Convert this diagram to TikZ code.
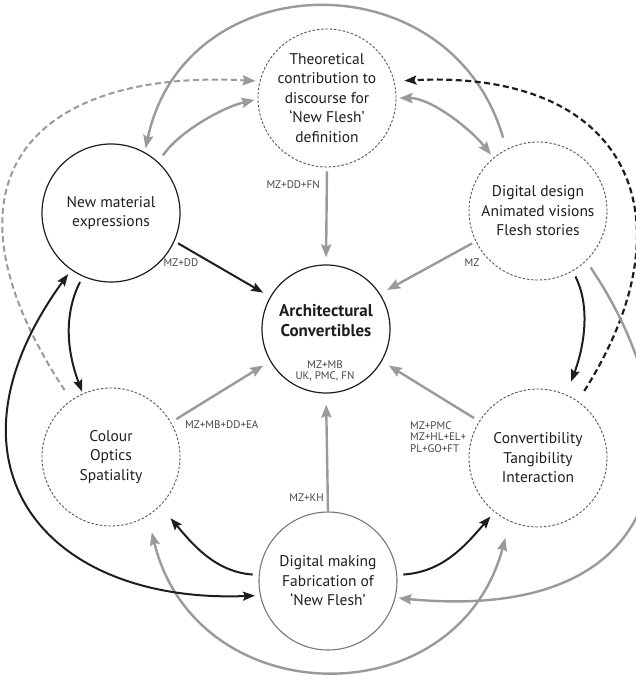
\documentclass[tikz,border=0pt]{standalone}
\usepackage{fontspec}
\setmainfont{PT Sans}
\usetikzlibrary{arrows.meta}
\definecolor{arrgray}{HTML}{9A9A9A}
\definecolor{circgray}{HTML}{555555}
\definecolor{bgray}{HTML}{777777}
\definecolor{txt}{HTML}{1E1E1E}
\definecolor{lblc}{HTML}{444444}
\begin{document}
\begin{tikzpicture}[x=1pt,y=-1pt,
  circ/.style={circle, minimum size=138pt, inner sep=0pt, align=center, font=\fontsize{15.5}{19.5}\selectfont, text=txt},
  solidc/.style={circ, draw=txt, line width=1.2pt},
  dashc/.style={circ, draw=circgray, line width=0.9pt, dash pattern=on 2.5pt off 1.8pt},
  grayc/.style={circ, draw=bgray, line width=1.1pt},
  gtip/.tip={Stealth[length=13pt,width=10pt,inset=2pt]},
  btip/.tip={Stealth[length=12pt,width=9pt,inset=2pt]},
  garr/.style={draw=arrgray, line width=2.4pt, -gtip},
  garrd/.style={draw=arrgray, line width=2.4pt, gtip-gtip},
  barr/.style={draw=txt, line width=2pt, -btip},
  barrd/.style={draw=txt, line width=2pt, btip-btip},
  gdash/.style={draw=arrgray, line width=2pt, dash pattern=on 6pt off 3.5pt, -gtip},
  bdash/.style={draw=txt, line width=2.2pt, dash pattern=on 6pt off 3.5pt, -btip},
  lbl/.style={font=\fontsize{11}{11.5}\selectfont, text=lblc, inner sep=0pt, align=left},
]
\useasboundingbox (0,0) rectangle (635,676);

% nodes
\node[dashc] (T) at (327,98) {Theoretical\\contribution to\\discourse for\\‘New Flesh’\\definition};
\node[solidc] (N) at (111,213) {New material\\expressions};
\node[dashc] (D) at (538,211) {Digital design\\Animated visions\\Flesh stories};
\node[dashc] (Co) at (111,457) {Colour\\Optics\\Spatiality};
\node[dashc] (Cv) at (538,458) {Convertibility\\Tangibility\\Interaction};
\node[grayc] (B) at (328,581) {Digital making\\Fabrication of\\‘New Flesh’};
\node[solidc, minimum size=128pt] (C) at (326,329) {};
\node[font=\fontsize{17}{20}\selectfont\bfseries, text=txt, align=center] (Ct) at (326,321) {Architectural\\Convertibles};
\node[lbl, align=center] (Cl) at (325,371) {MZ+MB\\UK, PMC, FN};

% straight arrows into centre
\draw[garr, shorten <=4pt, shorten >=7pt] (T.south) -- (C.north);
\draw[barr, shorten <=4pt, shorten >=8pt] (N.-24) -- (C.150);
\draw[garr, shorten <=4pt, shorten >=8pt] (D.206) -- (C.33);
\draw[garr, shorten <=6pt, shorten >=8pt] (Co.30) -- (C.210);
\draw[garr, shorten <=6pt, shorten >=8pt] (Cv.148) -- (C.-30);
\draw[garr, shorten >=11pt] (B.north) -- (C.south);

% labels
\node[lbl, anchor=east] (l1) at (320,185) {MZ+DD+FN};
\node[lbl] (l2) at (181,263) {MZ+DD};
\node[lbl] (l3) at (472,263) {MZ};
\node[lbl, anchor=west] (l4) at (185,425) {MZ+MB+DD+EA};
\node[lbl, anchor=west] (l5) at (410,437) {MZ+PMC\\MZ+HL+EL+\\PL+GO+FT};
\node[lbl, anchor=east] (l6) at (324,498) {MZ+KH};

% top links
\draw[garr, shorten <=8pt, shorten >=3pt] (N.47) .. controls +(20,-30) and +(-35,8) .. (T.181);
\draw[garrd, shorten <=3pt, shorten >=4pt] (T.0) .. controls +(35,0) and +(-22,-28) .. (D.130);
\draw[garr, shorten <=12pt, shorten >=4pt] (D.117) .. controls (450,-43) and (185,-36) .. (N.61);
\draw[gdash, shorten <=12pt, shorten >=4pt] (Co.125) .. controls (-75,178) and (35,69) .. (T.166);
\draw[bdash, shorten <=12pt, shorten >=10pt] (Cv.55) .. controls (695,216) and (628,69) .. (T.14);

% side links
\draw[barr, shorten <=6pt, shorten >=2pt] (N.246) .. controls +(-20,40) and +(-15,-40) .. (Co.114);
\draw[barr, shorten <=6pt, shorten >=14pt] (D.-60) .. controls +(20,40) and +(15,-40) .. (Cv.66);
\draw[barr, shorten <=6pt, shorten >=16pt] (B.175) .. controls +(-45,-3) and +(30,35) .. (Co.-45);
\draw[barr, shorten <=6pt, shorten >=6pt] (B.5) .. controls +(45,-3) and +(-30,35) .. (Cv.-129);

% big outer arcs
\draw[garrd, shorten <=17pt, shorten >=17pt] (Co.-58) .. controls (196,714) and (457,719) .. (Cv.-114);
\draw[garr, shorten <=8pt, shorten >=3pt] (D.-46) .. controls (700,430) and (680,625) .. (B.-14);
\draw[barrd, shorten <=5pt, shorten >=5pt] (N.235) .. controls (-69,463) and (43,604) .. (B.192);
\end{tikzpicture}
\end{document}
